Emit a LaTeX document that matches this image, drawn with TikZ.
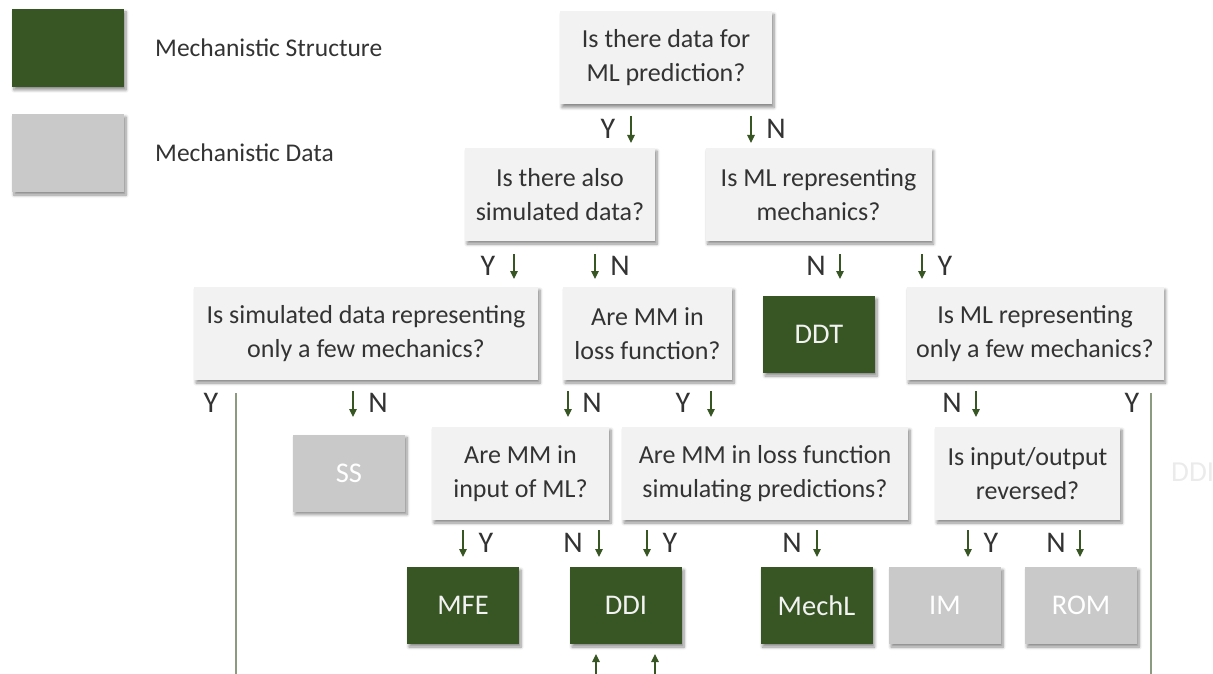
\documentclass[tikz,border=0pt]{standalone}
\usepackage{fontspec}
\setmainfont{Carlito}
\usetikzlibrary{arrows.meta,shadows.blur}

\definecolor{boxgreen}{HTML}{375623}
\definecolor{boxgray}{HTML}{C9C9C9}
\definecolor{qfill}{HTML}{F2F2F2}
\definecolor{ink}{HTML}{333333}
\definecolor{rule}{HTML}{8C9A80}

\tikzset{
  x=1pt, y=-1pt,
  shade/.style={blur shadow={shadow xshift=2pt, shadow yshift=-3pt,
      shadow blur radius=3pt, shadow blur steps=6, shadow opacity=45}},
  question/.style={shade, fill=qfill, text=ink, align=center, inner sep=0pt,
      minimum height=93pt, font=\fontsize{26}{34}\selectfont},
  structure/.style={shade, fill=boxgreen, text=qfill, inner sep=0pt,
      minimum width=112pt, minimum height=77pt, font=\fontsize{28.5}{30}\selectfont},
  mdata/.style={shade, fill=boxgray, text=white, inner sep=0pt,
      minimum width=112pt, minimum height=77pt, font=\fontsize{28.5}{30}\selectfont},
  yn/.style={text=ink, inner sep=0pt, font=\fontsize{30}{32}\selectfont},
  flow/.style={draw=boxgreen, line width=1.1pt,
      -{Triangle[width=7.5pt,length=8pt]}},
  branch/.style={draw=rule, line width=1.2pt},
  legendtext/.style={text=ink, anchor=west, inner sep=0pt,
      font=\fontsize{25.5}{30}\selectfont},
}

\begin{document}
\begin{tikzpicture}
\useasboundingbox (0,0) rectangle (1213,674);

% legend
\node[structure, minimum width=112pt, minimum height=78pt] (legS) at (68,48) {};
\node[mdata, minimum width=112pt, minimum height=78pt] (legD) at (68,153) {};
\node[legendtext] (legSt) at (155,48) {Mechanistic Structure};
\node[legendtext] (legDt) at (155,153) {Mechanistic Data};

% decision boxes
\node[question, minimum width=212pt] (q1) at (666,58) {Is there data for\\ML prediction?};
\node[question, minimum width=190pt] (q2) at (560,194.5) {Is there also\\simulated data?};
\node[question, minimum width=226pt] (q3) at (818.5,194.5) {Is ML representing\\mechanics?};
\node[question, minimum width=344pt] (q4) at (366,333.5) {Is simulated data representing\\only a few mechanics?};
\node[question, minimum width=169pt] (q5) at (647.5,333.5) {Are MM in\\loss function?};
\node[question, minimum width=257pt] (q6) at (1035,333.5) {Is ML representing\\only a few mechanics?};
\node[question, minimum width=177pt] (q7) at (520.5,473.5) {Are MM in\\input of ML?};
\node[question, minimum width=286pt] (q8) at (765,473.5) {Are MM in loss function\\simulating predictions?};
\node[question, minimum width=185pt] (q9) at (1027.5,473.5) {Is input/output\\reversed?};

% outcome boxes
\node[structure] (ddt) at (819,334.5) {DDT};
\node[mdata] (ss) at (349,473) {SS};
\node[structure] (mfe) at (463,605.5) {MFE};
\node[structure] (ddi) at (626,605.5) {DDI};
\node[structure] (mechl) at (816.5,605.5) {MechL};
\node[mdata] (im) at (945,605.5) {IM};
\node[mdata] (rom) at (1081,605.5) {ROM};

% faint label at the right border
\node[anchor=west, inner sep=0pt, text=black!8, font=\fontsize{29}{30}\selectfont] (ddiR) at (1171,472) {DDI};

% yes/no arrows: name/x/top/bottom/label/label offset
\foreach \n/\x/\ya/\yb/\lab/\dx in {
    a/631/116/143/Y/-23, b/751/116/143/N/25,
    c/514/254/279/Y/-26, d/595/254/279/N/25,
    e/840/254/279/N/-24, f/922/254/279/Y/23,
    g/353/391/417/N/25, h/568/391/417/N/24,
    i/711/391/417/Y/-28, j/976/391/417/N/-24,
    k/463/530/557/Y/23, l/599/530/557/N/-26,
    m/647/530/557/Y/23, n/817/530/557/N/-25,
    o/968/530/557/Y/23, p/1080/530/557/N/-24} {
  \coordinate (s\n) at (\x,\ya);
  \coordinate (e\n) at (\x,\yb);
  \draw[flow] (s\n) -- (e\n);
  \node[yn] (t\n) at ({\x+\dx},{(\ya+\yb)/2-1}) {\lab};
}

% long yes branches at both sides
\coordinate (ltop) at (236,393);
\coordinate (lbot) at (236,674);
\coordinate (rtop) at (1151,393);
\coordinate (rbot) at (1151,674);
\draw[branch] (ltop) -- (lbot);
\draw[branch] (rtop) -- (rbot);
\node[yn] (yl) at (211,403) {Y};
\node[yn] (yr) at (1132,403) {Y};

% incoming arrows under DDI
\coordinate (u1s) at (596,676);
\coordinate (u1e) at (596,654);
\coordinate (u2s) at (655,676);
\coordinate (u2e) at (655,654);
\draw[flow] (u1s) -- (u1e);
\draw[flow] (u2s) -- (u2e);
\end{tikzpicture}
\end{document}
